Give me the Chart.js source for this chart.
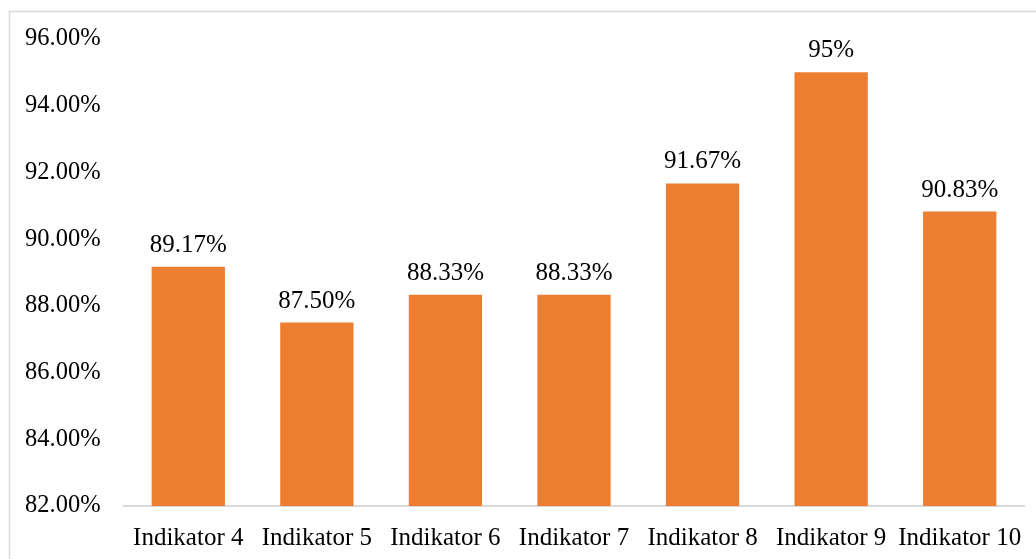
<!DOCTYPE html>
<html>
<head>
<meta charset="utf-8">
<script src="https://cdn.jsdelivr.net/npm/chart.js@4"></script>
<style>
  html, body { margin: 0; padding: 0; background: #fff; }
  #wrap { width: 1036px; height: 559px; }
</style>
</head>
<body>
<div id="wrap"><canvas id="barChart" width="1036" height="559"></canvas></div>
<script>
const categories = ['Indikator 4', 'Indikator 5', 'Indikator 6', 'Indikator 7', 'Indikator 8', 'Indikator 9', 'Indikator 10'];
const values = [89.17, 87.50, 88.33, 88.33, 91.67, 95, 90.83];
const valueLabels = ['89.17%', '87.50%', '88.33%', '88.33%', '91.67%', '95%', '90.83%'];

const FONT = "'Liberation Serif', 'Times New Roman', serif";

// frame round the chart
const framePlugin = {
  id: 'frame',
  beforeDraw(chart) {
    const ctx = chart.ctx;
    ctx.save();
    ctx.fillStyle = '#fff';
    ctx.fillRect(0, 0, chart.width, chart.height);
    ctx.strokeStyle = '#d9d9d9';
    ctx.lineWidth = 1.5;
    ctx.strokeRect(9.5, 11.5, chart.width + 10, chart.height + 10);
    ctx.restore();
  }
};

// value labels above bars
const valuePlugin = {
  id: 'values',
  afterDatasetsDraw(chart) {
    const ctx = chart.ctx;
    const meta = chart.getDatasetMeta(0);
    ctx.save();
    ctx.font = '25px ' + FONT;
    ctx.fillStyle = '#000';
    ctx.textAlign = 'center';
    ctx.textBaseline = 'bottom';
    meta.data.forEach((bar, i) => {
      ctx.fillText(valueLabels[i], bar.x, bar.y - 9);
    });
    ctx.restore();
  }
};

const ctx = document.getElementById('barChart').getContext('2d');
const chart = new Chart(ctx, {
  type: 'bar',
  data: {
    labels: categories,
    datasets: [{
      data: values,
      backgroundColor: '#ED7D31',
      borderWidth: 0,
      barPercentage: 0.57,
      categoryPercentage: 1
    }]
  },
  options: {
    responsive: false,
    animation: false,
    layout: { padding: { left: 25, right: 12, top: 39, bottom: 0 } },
    plugins: { legend: { display: false }, tooltip: { enabled: false } },
    scales: {
      x: {
        grid: { display: false },
        border: { display: true, color: '#d9d9d9', width: 2 },
        ticks: { color: '#000', font: { family: FONT, size: 25 }, padding: 9, maxRotation: 0, autoSkip: false },
        afterFit(scale) { scale.height = 53; }
      },
      y: {
        min: 82,
        max: 96,
        grid: { display: false },
        border: { display: false },
        ticks: {
          stepSize: 2,
          color: '#000',
          crossAlign: 'far',
          font: { family: FONT, size: 24.5 },
          callback: v => v.toFixed(2) + '%'
        },
        afterFit(scale) { scale.width = 99; }
      }
    }
  },
  plugins: [framePlugin, valuePlugin]
});
</script>
</body>
</html>
